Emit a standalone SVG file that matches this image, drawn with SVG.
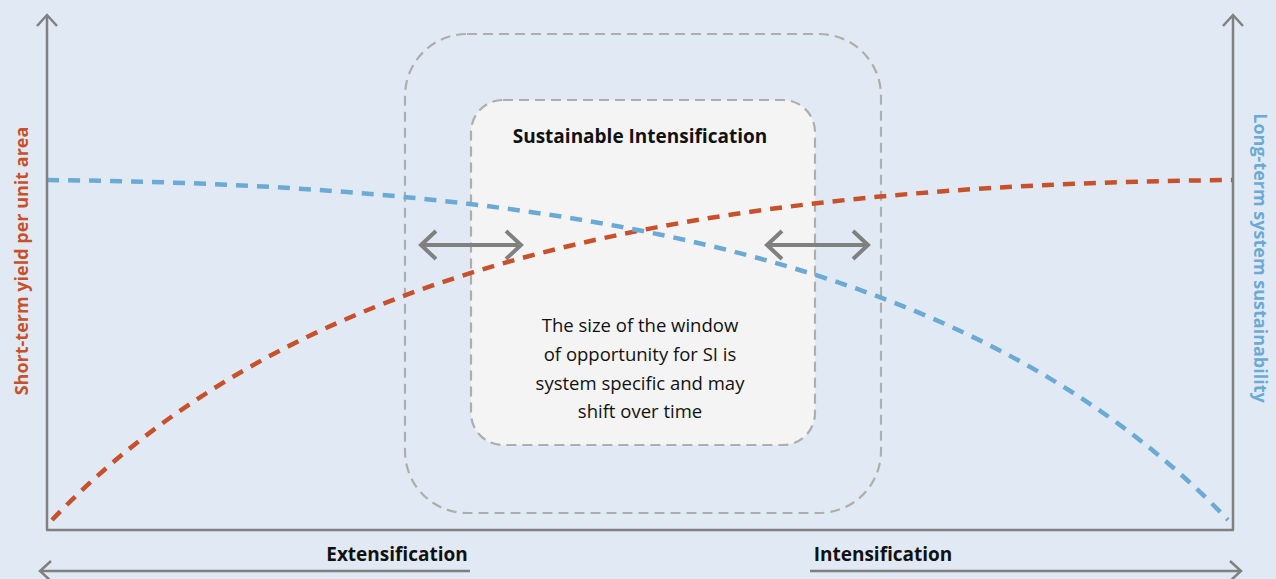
<svg xmlns="http://www.w3.org/2000/svg" width="1276" height="579" viewBox="0 0 1276 579">
<defs>
<style>
.axis{fill:none;stroke:#808080;stroke-width:2.5}
.win{stroke:#b0aeab;stroke-width:2.2;stroke-dasharray:10 6}
.darr{fill:none;stroke:#808080;stroke-width:4}
.lbl{font-family:"Open Sans","Liberation Sans",sans-serif;font-weight:bold;font-size:19px;fill:#111}
.side{font-size:18px}
.body{font-family:"Open Sans","Liberation Sans",sans-serif;font-size:18.5px;fill:#111}
</style>
</defs>
<rect width="1276" height="579" fill="#e1eaf4"/>
<g id="window-outer"><rect class="win" x="405" y="34" width="476" height="479" rx="62" fill="#e1eaf4"/></g>
<g id="window-inner"><rect class="win" x="471" y="100" width="344" height="345" rx="32" fill="#f4f4f4"/>
<text class="lbl" x="640" y="143" text-anchor="middle">Sustainable Intensification</text>
<text class="body" text-anchor="middle"><tspan x="640" y="332">The size of the window</tspan><tspan x="640" y="361">of opportunity for SI is</tspan><tspan x="640" y="390">system specific and may</tspan><tspan x="640" y="418">shift over time</tspan></text>
</g>
<g id="connectors">
<path d="M52,520 C300,260 700,185 1233,180" fill="none" stroke="#c8502a" stroke-width="4.5" stroke-dasharray="12 9"/>
<path d="M47,180 C580,185 980,260 1228,520" fill="none" stroke="#6aaad4" stroke-width="4.5" stroke-dasharray="12 9"/>
<g id="axes">
<path class="axis" d="M47,530 V16 M37,26 L47,15 L57,26"/>
<path class="axis" d="M1233,530 V16 M1223,26 L1233,15 L1243,26"/>
<path class="axis" d="M46,530 H1234"/>
<path class="axis" d="M470,571 H41 M51,561 L40,571 L51,581"/>
<path class="axis" d="M810,571 H1240 M1230,561 L1241,571 L1230,581"/>
</g>
<path class="darr" d="M421,245 H521 M436,231 L421,245 L436,259 M506,231 L521,245 L506,259"/>
<path class="darr" d="M767,245 H868 M782,231 L767,245 L782,259 M853,231 L868,245 L853,259"/>
</g>
<g id="labels">
<text class="lbl" x="397" y="561" text-anchor="middle">Extensification</text>
<text class="lbl" x="883" y="561" text-anchor="middle">Intensification</text>
<text class="lbl side" style="fill:#c8502a" transform="translate(28,261) rotate(-90)" text-anchor="middle">Short-term yield per unit area</text>
<text class="lbl side" style="fill:#6aaad4" transform="translate(1254,258) rotate(90)" text-anchor="middle">Long-term system sustainability</text>
</g>
</svg>
